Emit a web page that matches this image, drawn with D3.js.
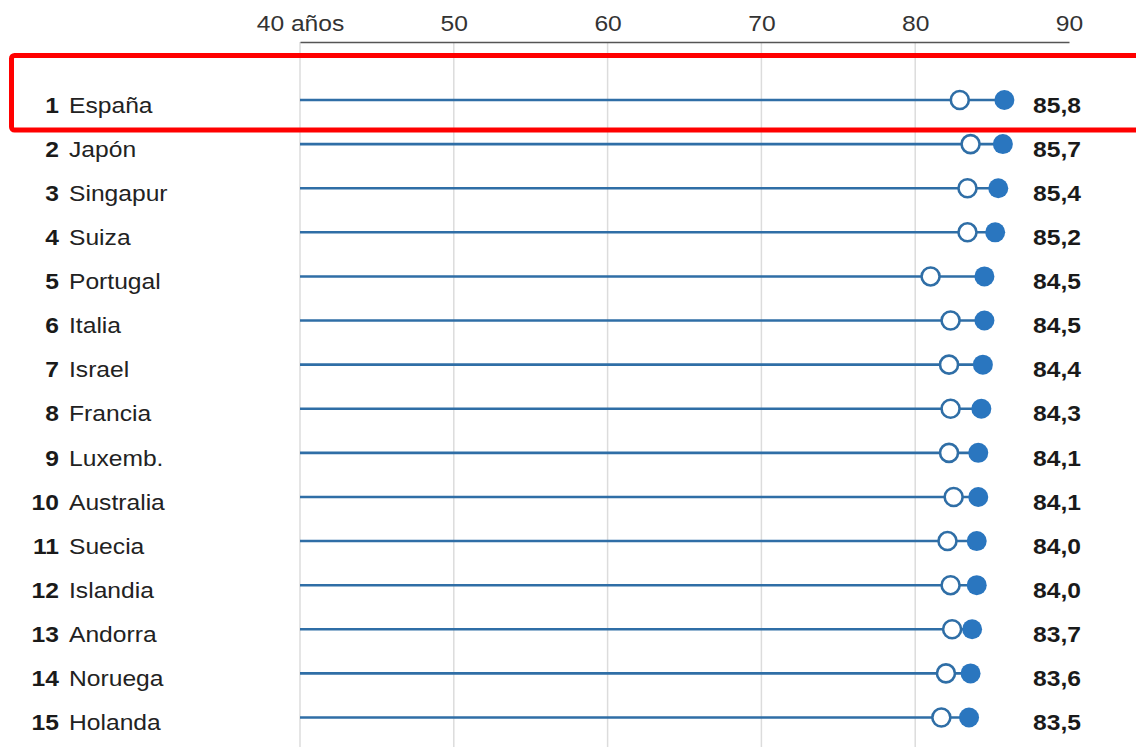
<!DOCTYPE html>
<html>
<head>
<meta charset="utf-8">
<script src="https://cdn.jsdelivr.net/npm/d3@7"></script>
<style>
  html, body { margin: 0; padding: 0; background: #fff; }
  svg { display: block; font-family: "Liberation Sans", Arial, sans-serif; }
</style>
</head>
<body>
<svg id="chart" width="1136" height="747"></svg>
<script>
const ranks = [1, 2, 3, 4, 5, 6, 7, 8, 9, 10, 11, 12, 13, 14, 15];
const countries = ["España", "Japón", "Singapur", "Suiza", "Portugal", "Italia", "Israel", "Francia", "Luxemb.", "Australia", "Suecia", "Islandia", "Andorra", "Noruega", "Holanda"];
const currentValues = [85.8, 85.7, 85.4, 85.2, 84.5, 84.5, 84.4, 84.3, 84.1, 84.1, 84.0, 84.0, 83.7, 83.6, 83.5];
const previousValues = [82.9, 83.6, 83.4, 83.4, 81.0, 82.3, 82.2, 82.3, 82.2, 82.5, 82.1, 82.3, 82.4, 82.0, 81.7];
const tickValues = [40, 50, 60, 70, 80, 90];
const tickLabels = ["40 años", "50", "60", "70", "80", "90"];
const gridValues = [40, 50, 60, 70, 80];
const highlighted = "España";

const data = countries.map((c, i) => ({
  rank: ranks[i], country: c, cur: currentValues[i], prev: previousValues[i]
}));

const svg = d3.select("#chart");
const SX = 1.12;
const blue = "#2a76bf";
const lineBlue = "#2f6ea6";

const x = d3.scaleLinear().domain([40, 90]).range([300, 1069]);
const y = d3.scalePoint().domain(countries).range([100, 717.5]);

// gridlines
svg.append("g").selectAll("line").data(gridValues).join("line")
  .attr("x1", d => x(d)).attr("x2", d => x(d))
  .attr("y1", 42).attr("y2", 747)
  .attr("stroke", "#dcdcdc").attr("stroke-width", 1.5);

// top axis
const axis = d3.axisTop(x).tickValues(tickValues)
  .tickFormat((d, i) => tickLabels[i]).tickSize(0).tickSizeOuter(0).tickPadding(11.5);
const ax = svg.append("g").attr("transform", "translate(0,42)").call(axis);
ax.select(".domain").attr("stroke", "#555").attr("stroke-width", 1.5);
ax.selectAll("text")
  .attr("font-size", 22).attr("fill", "#333")
  .attr("font-family", "'Liberation Sans', Arial, sans-serif")
  .attr("transform", `scale(${SX},1)`);

// rows
const rows = svg.append("g").selectAll("g").data(data).join("g")
  .attr("transform", d => `translate(0,${y(d.country)})`);

rows.append("line")
  .attr("x1", x(40)).attr("x2", d => x(d.cur))
  .attr("y1", 0).attr("y2", 0)
  .attr("stroke", lineBlue).attr("stroke-width", 2.6);

rows.append("circle")
  .attr("cx", d => x(d.cur)).attr("cy", 0).attr("r", 10)
  .attr("fill", blue);

rows.append("circle")
  .attr("cx", d => x(d.prev)).attr("cy", 0).attr("r", 9)
  .attr("fill", "#fff").attr("stroke", lineBlue).attr("stroke-width", 2.6);

rows.append("text")
  .attr("transform", `translate(59,12.7) scale(${SX},1)`)
  .attr("text-anchor", "end").attr("font-size", 22).attr("font-weight", "bold")
  .attr("fill", "#1a1a1a")
  .text(d => d.rank);

rows.append("text")
  .attr("transform", `translate(69,12.7) scale(${SX},1)`)
  .attr("font-size", 22).attr("fill", "#222")
  .text(d => d.country);

rows.append("text")
  .attr("transform", `translate(1033,12.7) scale(${SX},1)`)
  .attr("font-size", 22).attr("font-weight", "bold").attr("fill", "#1a1a1a")
  .text(d => d3.format(".1f")(d.cur).replace(".", ","));

// highlight box around first row
const hy = y(highlighted);
svg.append("rect")
  .attr("x", 11.5).attr("y", hy - 44.5)
  .attr("width", 1140).attr("height", 74.5)
  .attr("rx", 3)
  .attr("fill", "none").attr("stroke", "#ff0000").attr("stroke-width", 5);
</script>
</body>
</html>
